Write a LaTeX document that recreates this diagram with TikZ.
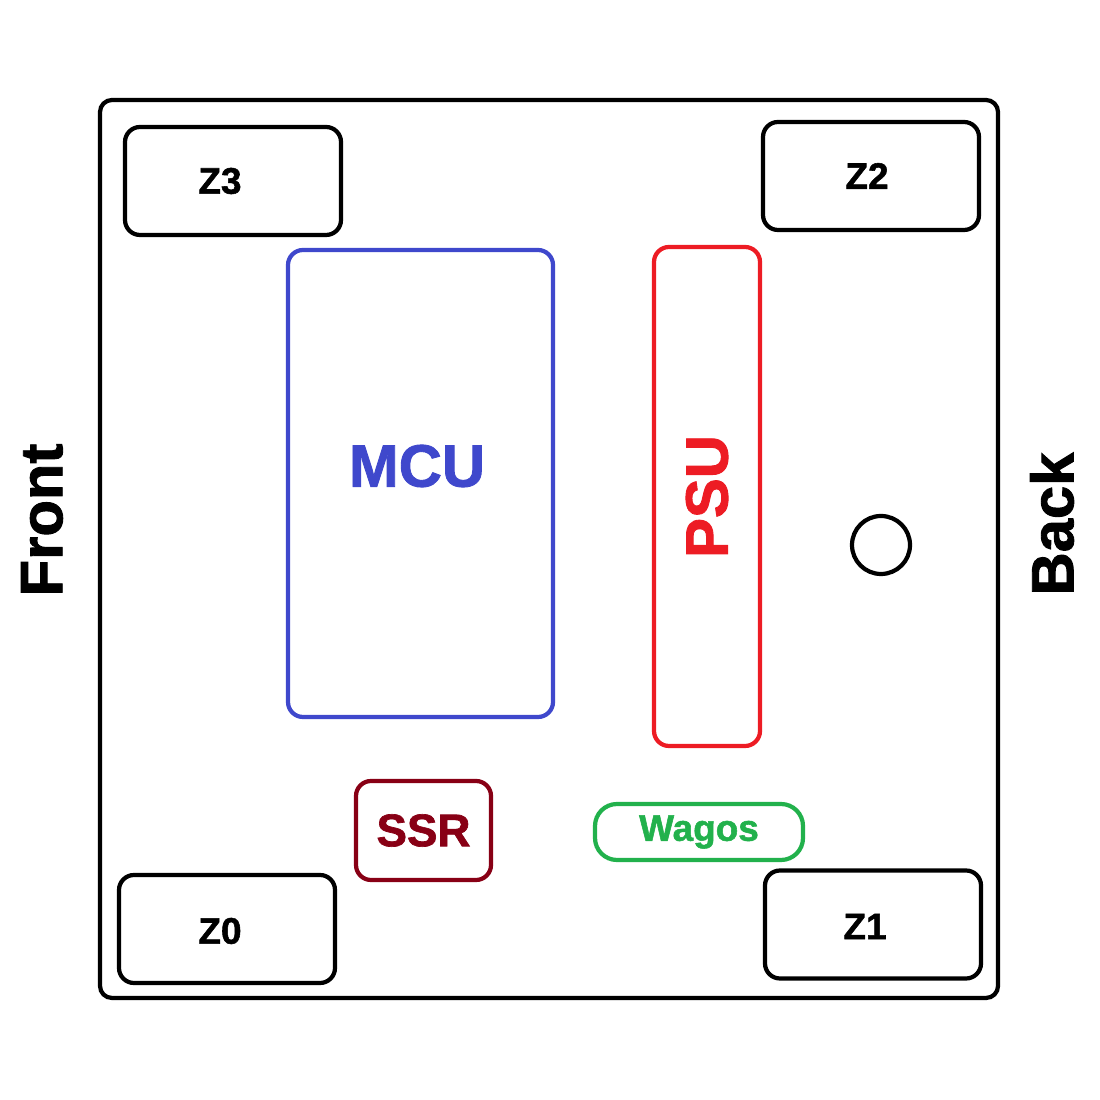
\documentclass[tikz,border=0pt]{standalone}
\usepackage{fontspec}
\setmainfont{Liberation Sans}[BoldFeatures={FakeBold=1.5}]
\usetikzlibrary{positioning}

\definecolor{mcublue}{HTML}{3F48CC}
\definecolor{psured}{HTML}{ED1C24}
\definecolor{ssrred}{HTML}{880015}
\definecolor{wagogreen}{HTML}{22B14C}

\begin{document}
\begin{tikzpicture}[
    part/.style={draw, line width=1.2pt, rounded corners=0.15cm, inner sep=0pt},
    zone/.style={part, minimum width=2.16cm, minimum height=1.08cm},
    zonetext/.style={font=\fontsize{10.5}{12}\selectfont\bfseries},
    big/.style={font=\fontsize{17}{20}\selectfont\bfseries}
  ]
  \useasboundingbox (0,0) rectangle (11,11);
  \node[part, rounded corners=0.12cm, minimum width=8.98cm, minimum height=8.98cm]
    (case) at (5.49, 5.51) {};

  % corner zones
  \node[zone] (z3) at (2.33, 9.19) {};
  \node[zone] (z2) at (8.71, 9.24) {};
  \node[zone] (z0) at (2.27, 1.71) {};
  \node[zone] (z1) at (8.73, 1.755) {};
  \node[zonetext] at ([xshift=-0.13cm]z3.center) {Z3};
  \node[zonetext] at ([xshift=-0.04cm]z2.center) {Z2};
  \node[zonetext] at ([xshift=-0.07cm, yshift=-0.02cm]z0.center) {Z0};
  \node[zonetext] at ([xshift=-0.08cm, yshift=-0.02cm]z1.center) {Z1};

  \node[part, draw=mcublue, minimum width=2.65cm, minimum height=4.67cm]
    (mcu) at (4.205, 6.165) {};
  \node[big, text=mcublue] (mculabel) at (4.17, 6.34) {MCU};

  \node[part, draw=psured, text=psured, big, rotate=90,
        minimum width=4.99cm, minimum height=1.06cm] (psu) at (7.07, 6.035) {PSU};

  \node[part, draw=ssrred, text=ssrred, minimum width=1.35cm, minimum height=0.99cm,
        font=\fontsize{13}{15}\selectfont\bfseries] (ssr) at (4.235, 2.695) {SSR};
  \node[part, draw=wagogreen, text=wagogreen, rounded corners=0.22cm,
        minimum width=2.08cm, minimum height=0.56cm,
        font=\fontsize{10.5}{12}\selectfont\bfseries] (wagos) at (6.99, 2.68) {Wagos};

  \node[draw, circle, line width=1.2pt, minimum size=0.58cm, inner sep=0pt]
    (hole) at (8.81, 5.55) {};

  \node[big, rotate=90] (front) at (0.42, 5.80) {Front};
  \node[big, rotate=90] (back) at (10.52, 5.76) {Back};
\end{tikzpicture}
\end{document}
